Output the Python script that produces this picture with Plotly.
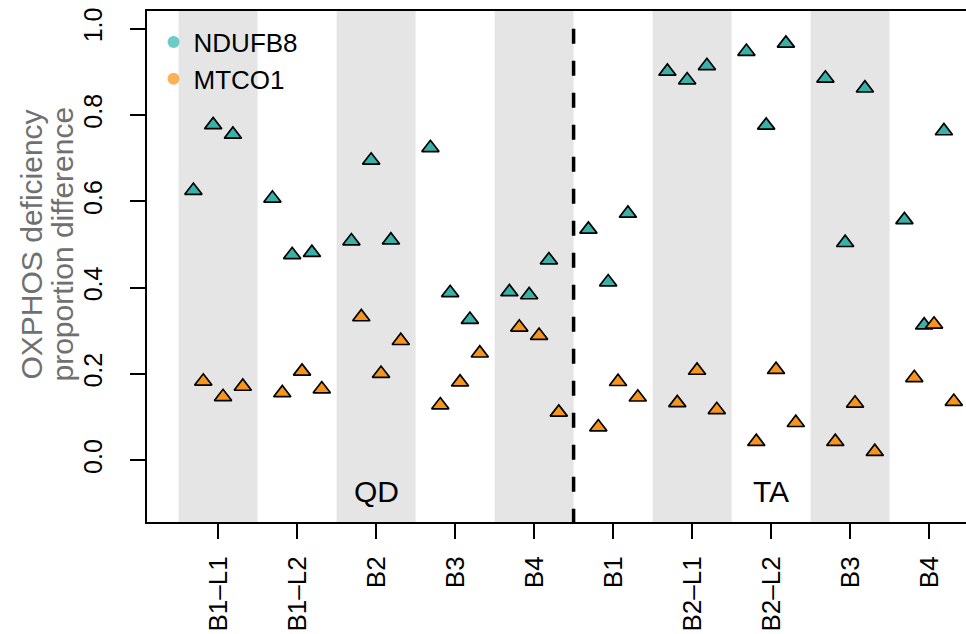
import plotly.graph_objects as go

# Sampling sites for the two groups
qd_sites = ["B1–L1", "B1–L2", "B2", "B3", "B4"]
ta_sites = ["B1", "B2–L1", "B2–L2", "B3", "B4"]
groups = ["QD", "TA"]

# Three replicate proportion differences per site
ndufb8 = [
    [0.625, 0.777, 0.755],
    [0.607, 0.476, 0.481],
    [0.508, 0.695, 0.510],
    [0.724, 0.388, 0.326],
    [0.390, 0.383, 0.464],
    [0.535, 0.413, 0.572],
    [0.901, 0.881, 0.914],
    [0.947, 0.776, 0.966],
    [0.885, 0.504, 0.862],
    [0.557, 0.313, 0.763],
]
mtco1 = [
    [0.183, 0.147, 0.171],
    [0.156, 0.206, 0.165],
    [0.332, 0.201, 0.277],
    [0.128, 0.181, 0.248],
    [0.308, 0.289, 0.111],
    [0.077, 0.182, 0.146],
    [0.133, 0.208, 0.117],
    [0.043, 0.210, 0.087],
    [0.043, 0.132, 0.020],
    [0.191, 0.315, 0.136],
]

y_ticks = [0.0, 0.2, 0.4, 0.6, 0.8, 1.0]
y_title = ["OXPHOS deficiency", "proportion difference"]

TEAL = "#38B2A9"
ORANGE = "#F7941E"
TEAL_KEY = "#6BCDC6"
ORANGE_KEY = "#FCB156"
FONT = "Liberation Sans, Arial, Helvetica, sans-serif"

sites = qd_sites + ta_sites
n_sites = len(sites)
positions = list(range(1, n_sites + 1))

# replicates are spread side by side inside each site slot, the two markers interleaved
step = 0.125


def spread(values, start):
    xs, ys = [], []
    for pos, reps in zip(positions, values):
        for j, v in enumerate(reps):
            xs.append(pos + start + 2 * step * j)
            ys.append(v)
    return xs, ys


fig = go.Figure()

for name, vals, start, fill, key in [
    ("NDUFB8", ndufb8, -2.5 * step, TEAL, TEAL_KEY),
    ("MTCO1", mtco1, -1.5 * step, ORANGE, ORANGE_KEY),
]:
    xs, ys = spread(vals, start)
    fig.add_trace(go.Scatter(
        x=xs, y=ys, mode="markers", showlegend=False, hoverinfo="skip",
        marker=dict(symbol="triangle-up", size=15, color=fill,
                    line=dict(color="black", width=1.7)),
    ))
    # circular key for the legend
    fig.add_trace(go.Scatter(
        x=[None], y=[None], mode="markers", name=name,
        marker=dict(symbol="circle", size=11, color=key),
    ))

# alternating grey bands behind every other site
shapes = []
for pos in positions[::2]:
    shapes.append(dict(type="rect", xref="x", yref="paper", x0=pos - 0.5, x1=pos + 0.5,
                       y0=0, y1=1, fillcolor="#E5E5E5", line=dict(width=0), layer="below"))

y_lo, y_hi = -0.143, 1.041
split = len(qd_sites) + 0.5
shapes.append(dict(type="line", xref="x", yref="y", x0=split, x1=split, y0=1.0, y1=y_lo,
                   line=dict(color="black", width=3.5, dash="15px,17px"), layer="above"))

annotations = [
    dict(x=(1 + len(qd_sites)) / 2, y=-0.073, xref="x", yref="y", text=groups[0],
         showarrow=False, font=dict(size=30, color="black", family=FONT)),
    dict(x=len(qd_sites) + (1 + len(ta_sites)) / 2, y=-0.073, xref="x", yref="y", text=groups[1],
         showarrow=False, font=dict(size=30, color="black", family=FONT)),
]
# two-line axis title, one rotated line each, centred on the 0-1 span
for line, px in zip(y_title, [31, 62]):
    annotations.append(dict(
        x=(px - 147) / 819, y=0.5, xref="paper", yref="y", text=line, textangle=-90,
        showarrow=False, xanchor="center", yanchor="middle",
        font=dict(size=30, color="#707070", family=FONT)))

x_lo = 0.1
x_hi = x_lo + 819 / 79

fig.update_layout(
    width=966, height=634,
    margin=dict(l=147, r=0, t=11, b=111.5, autoexpand=False),
    paper_bgcolor="white", plot_bgcolor="white",
    font=dict(family=FONT, color="black"),
    shapes=shapes, annotations=annotations,
    legend=dict(x=0.008, y=0.985, xanchor="left", yanchor="top",
                font=dict(size=26, family=FONT), bgcolor="rgba(0,0,0,0)",
                tracegroupgap=0, itemsizing="constant"),
    xaxis=dict(range=[x_lo, x_hi], tickmode="array", tickvals=positions, ticktext=sites,
               tickangle=-90, ticks="outside", ticklen=15, tickwidth=2, tickcolor="black",
               showline=True, linewidth=2, linecolor="black", mirror=True,
               showgrid=False, zeroline=False, tickfont=dict(size=26),
               ticklabelstandoff=7),
    yaxis=dict(range=[y_lo, y_hi], tickmode="array", tickvals=y_ticks,
               ticktext=[f"{v:.1f}" for v in y_ticks], tickangle=-90,
               ticks="outside", ticklen=15, tickwidth=2, tickcolor="black",
               showline=True, linewidth=2, linecolor="black", mirror=False,
               showgrid=False, zeroline=False, tickfont=dict(size=25),
               ticklabelstandoff=18),
)

fig.write_html("out.html")
